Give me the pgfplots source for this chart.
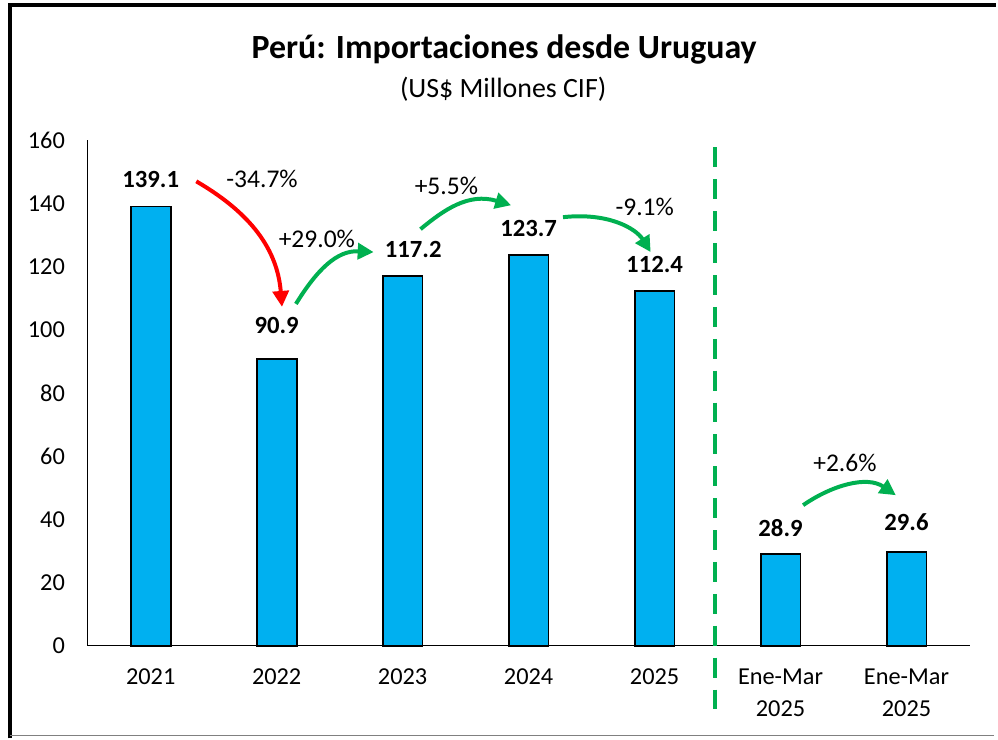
\documentclass[border=0pt]{standalone}
\usepackage{pgfplots}
\usepackage{pgfplotstable}
\pgfplotsset{compat=1.18}
\usepackage{fontspec}
\setmainfont{Carlito}
\usetikzlibrary{arrows.meta}
\definecolor{barblue}{HTML}{00B0F0}
\definecolor{xlgreen}{HTML}{00B050}
\definecolor{xlred}{HTML}{FF0000}
\pgfplotstableread{
x y lab dx dy
0 139.1 139.1 0 0
1 90.9 90.9 0 5
2 117.2 117.2 8 0
3 123.7 123.7 0 0
4 112.4 112.4 0 0
5 28.9 28.9 0 0
6 29.6 29.6 0 3
}\imports
\begin{document}
\begin{tikzpicture}
\begin{scope}[x=0.75pt,y=0.75pt]
\useasboundingbox (0,0) rectangle (998,741);
\end{scope}
\begin{axis}[
  at={(66pt,69.75pt)}, anchor=south west,
  width=663.75pt, height=380.25pt, scale only axis,
  xmin=-0.5, xmax=6.5, ymin=0, ymax=160,
  axis lines*=left,
  axis line style={line width=1.1pt},
  major tick length=0pt,
  ytick={0,20,...,160},
  xtick={0,1,2,3,4,5,6},
  xticklabels={2021,2022,2023,2024,2025,{Ene-Mar\\2025},{Ene-Mar\\2025}},
  /pgf/number format/assume math mode=true,
  tick label style={font=\fontsize{18.3}{24}\selectfont},
  yticklabel style={anchor=east, inner sep=0pt, xshift=-17pt},
  xticklabel style={anchor=north, inner sep=0pt, align=center, yshift=-17pt},
  clip=false,
]
\addplot[ybar, bar width=30pt, fill=barblue, draw=black, line width=1.4pt,
  nodes near coords, point meta=explicit symbolic,
  visualization depends on={\thisrow{dx} \as \dx},
  visualization depends on={\thisrow{dy} \as \dy},
  every node near coord/.append style={font=\bfseries\fontsize{18.6}{20}\selectfont, anchor=center, yshift=20pt+\dy pt, xshift=\dx pt, black}]
  table[x=x, y=y, meta=lab] {\imports};
\end{axis}
\begin{scope}[x=0.75pt,y=0.75pt]
% frame
\draw[line width=2.4pt] (10,0) -- (10,736) -- (1000,736);
\draw[gray, line width=0.8pt] (10,3) -- (998,3);
% title
\node[font=\bfseries\fontsize{25.5}{30}\selectfont] at (506,691) {Perú: Importaciones desde Uruguay};
\node[font=\fontsize{21}{24}\selectfont] at (505,651) {(US\$ Millones CIF)};
% dashed separator
\draw[xlgreen, line width=3pt, dash pattern=on 15pt off 9pt] (718,593) -- (718,19);
% arrows
\draw[xlred, line width=3pt, -{Triangle[length=12pt,width=12pt]}] (197,559) .. controls (245,531) and (278,496) .. (283,433);
\draw[xlgreen, line width=3pt, -{Triangle[length=12pt,width=12pt]}] (297,436) .. controls (318,470) and (338,490) .. (375,488);
\draw[xlgreen, line width=3pt, -{Triangle[length=12pt,width=12pt]}] (422,511) .. controls (445,530) and (470,548) .. (513,535);
\draw[xlgreen, line width=3pt, -{Triangle[length=12pt,width=12pt]}] (565,523) .. controls (610,528) and (638,512) .. (653,488);
\draw[xlgreen, line width=3pt, -{Triangle[length=12pt,width=12pt]}] (806,234) .. controls (835,254) and (870,264) .. (899,244);
% percent labels
\begin{scope}[every node/.style={font=\fontsize{19.2}{22}\selectfont}]
\node at (263,561) {-34.7\%};
\node at (318,501) {+29.0\%};
\node at (448,554) {+5.5\%};
\node at (647,533) {-9.1\%};
\node at (848,276) {+2.6\%};
\end{scope}
\end{scope}
\end{tikzpicture}
\end{document}
